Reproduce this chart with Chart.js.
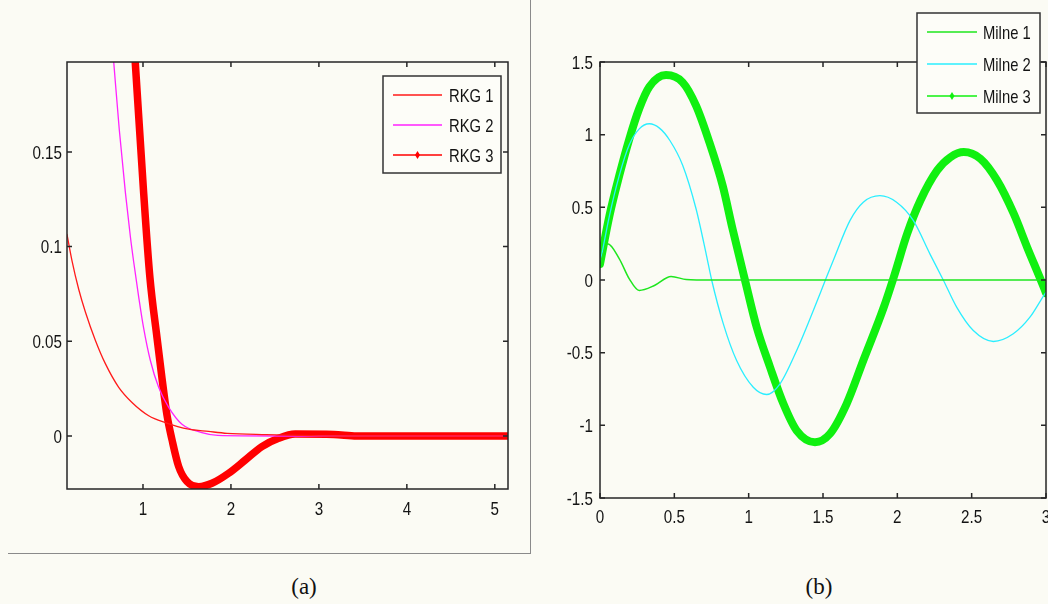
<!DOCTYPE html>
<html>
<head>
<meta charset="utf-8">
<script src="https://cdn.jsdelivr.net/npm/chart.js@4.4.0/dist/chart.umd.min.js"></script>
<style>
    body { margin: 0; width: 1048px; height: 604px; background: #fbfbf4; position: relative; overflow: hidden; }
    #chart-a { position: absolute; left: 0; top: 0; }
    #chart-b { position: absolute; left: 530px; top: 0; }
    .rule-h { position: absolute; left: 8px; top: 553px; width: 523px; height: 1px; background: #8a8a8a; }
    .rule-v { position: absolute; left: 530px; top: 0; width: 1px; height: 554px; background: #8a8a8a; }
    .caption { position: absolute; top: 574px; width: 100px; text-align: center; font: 23px "Liberation Serif", "Times New Roman", serif; color: #111; }
</style>
</head>
<body>
<div class="rule-h"></div>
<div class="rule-v"></div>
<canvas id="chart-a" width="530" height="530"></canvas>
<canvas id="chart-b" width="518" height="530"></canvas>
<div class="caption" style="left:254px">(a)</div>
<div class="caption" style="left:769px">(b)</div>
<script>
/* panel (a) */
const rkg1X = [0.136, 0.193, 0.269, 0.345, 0.458, 0.572, 0.724, 0.875, 1.065, 1.253, 1.519, 1.746, 1.955, 2.4, 2.8, 3.2, 5.15]
const rkg1Y = [0.1065, 0.0925, 0.0775, 0.0655, 0.0506, 0.0382, 0.0257, 0.0177, 0.0107, 0.0071, 0.0036, 0.0024, 0.0014, 0.0007, 0.0003, 0, 0]
const rkg2X = [0.62, 0.667, 0.73, 0.8, 0.856, 0.894, 0.951, 1.008, 1.083, 1.178, 1.292, 1.443, 1.67, 1.85, 2.5, 5.15]
const rkg2Y = [0.224, 0.1976, 0.162, 0.1285, 0.1055, 0.092, 0.0735, 0.0568, 0.04, 0.0257, 0.0151, 0.0062, 0.0018, 0.0003, 0, 0]
const rkg3X = [0.88, 0.913, 1.008, 1.078, 1.159, 1.216, 1.273, 1.33, 1.406, 1.5, 1.633, 1.784, 1.974, 2.163, 2.352, 2.542, 2.73, 3.17, 3.43, 5.15]
const rkg3Y = [0.22, 0.1966, 0.128, 0.084, 0.052, 0.0305, 0.011, -0.002, -0.0162, -0.0241, -0.0268, -0.025, -0.0197, -0.0127, -0.0056, -0.0012, 0.001, 0.0008, 0, 0]
const aXTicks = [1, 2, 3, 4, 5]
const aXLabels = ['1', '2', '3', '4', '5']
const aYTicks = [0, 0.05, 0.1, 0.15]
const aYLabels = ['0', '0.05', '0.1', '0.15']

/* panel (b) */
const milne1X = [0, 0.052, 0.13, 0.197, 0.264, 0.366, 0.478, 0.58, 0.65, 3.0]
const milne1Y = [0.11, 0.25, 0.146, 0.008, -0.072, -0.038, 0.024, 0.003, 0, 0]
const milne2X = [0, 0.063, 0.13, 0.197, 0.264, 0.332, 0.4, 0.47, 0.556, 0.646, 0.716, 0.751, 0.829, 0.919, 1.031, 1.121, 1.211, 1.323, 1.435, 1.524, 1.569, 1.682, 1.771, 1.883, 1.995, 2.107, 2.219, 2.309, 2.399, 2.511, 2.646, 2.78, 2.892, 2.985, 3.0]
const milne2Y = [0.11, 0.44, 0.72, 0.93, 1.04, 1.075, 1.045, 0.96, 0.79, 0.49, 0.17, 0, -0.3, -0.554, -0.738, -0.788, -0.714, -0.485, -0.21, 0.02, 0.134, 0.41, 0.535, 0.58, 0.535, 0.41, 0.18, 0, -0.187, -0.348, -0.423, -0.37, -0.256, -0.107, -0.085]
const milne3X = [0, 0.063, 0.13, 0.197, 0.264, 0.332, 0.444, 0.556, 0.646, 0.735, 0.825, 0.892, 0.975, 1.054, 1.144, 1.233, 1.323, 1.446, 1.547, 1.659, 1.771, 1.909, 1.976, 2.066, 2.155, 2.268, 2.357, 2.447, 2.559, 2.671, 2.783, 2.873, 2.985, 3.0]
const milne3Y = [0.11, 0.44, 0.72, 0.97, 1.18, 1.33, 1.41, 1.36, 1.2, 0.95, 0.65, 0.35, 0, -0.325, -0.6, -0.85, -1.036, -1.116, -1.058, -0.852, -0.554, -0.187, 0.02, 0.318, 0.547, 0.754, 0.845, 0.88, 0.834, 0.685, 0.456, 0.226, -0.05, -0.09]
const bXTicks = [0, 0.5, 1, 1.5, 2, 2.5, 3]
const bXLabels = ['0', '0.5', '1', '1.5', '2', '2.5', '3']
const bYTicks = [-1.5, -1, -0.5, 0, 0.5, 1, 1.5]
const bYLabels = ['-1.5', '-1', '-0.5', '0', '0.5', '1', '1.5']

var fontFamily = "'Liberation Sans', Arial, sans-serif"

function points(xs, ys) {
    return xs.map((x, i) => ({ x: x, y: ys[i] }))
}

function line(label, xs, ys, color, width, marker) {
    return {
        label: label,
        data: points(xs, ys),
        borderColor: color,
        backgroundColor: color,
        borderWidth: width,
        pointRadius: 0,
        cubicInterpolationMode: 'monotone',
        borderCapStyle: 'round',
        borderJoinStyle: 'round',
        clip: 0,
        marker: marker
    }
}

/* fixed axis: ticks only where the arrays say, labels drawn by the frame plugin */
function axis(min, max, values, size, isX) {
    return {
        type: 'linear',
        min: min,
        max: max,
        grid: { display: false },
        border: { display: false },
        afterBuildTicks: function (scale) { scale.ticks = values.map(v => ({ value: v })) },
        afterFit: function (scale) { if (isX) scale.height = size; else scale.width = size },
        ticks: { display: false, autoSkip: false }
    }
}

/* the old matlab font is a narrow arial, squeeze it */
function narrowText(ctx, text, x, y, align, squeeze) {
    ctx.save()
    ctx.translate(x, y)
    ctx.scale(squeeze, 1)
    ctx.textAlign = align
    ctx.textBaseline = 'alphabetic'
    ctx.fillText(text, 0, 0)
    ctx.restore()
}

/* box round the plot, ticks pointing inward on all four sides, tick labels */
const framePlugin = {
    id: 'frame',
    afterDatasetsDraw(chart, args, opts) {
        const ctx = chart.ctx, a = chart.chartArea, sx = chart.scales.x, sy = chart.scales.y
        ctx.save()
        ctx.strokeStyle = '#262626'
        ctx.lineWidth = 1.5
        ctx.strokeRect(a.left, a.top, a.right - a.left, a.bottom - a.top)
        ctx.beginPath()
        sx.ticks.forEach(t => {
            const p = sx.getPixelForValue(t.value)
            ctx.moveTo(p, a.bottom); ctx.lineTo(p, a.bottom - 5)
            ctx.moveTo(p, a.top); ctx.lineTo(p, a.top + 5)
        })
        sy.ticks.forEach(t => {
            const p = sy.getPixelForValue(t.value)
            ctx.moveTo(a.left, p); ctx.lineTo(a.left + 5, p)
            ctx.moveTo(a.right, p); ctx.lineTo(a.right - 5, p)
        })
        ctx.stroke()

        ctx.fillStyle = '#141414'
        ctx.font = '19px ' + fontFamily
        sx.ticks.forEach((t, i) => {
            narrowText(ctx, opts.xLabels[i], sx.getPixelForValue(t.value), a.bottom + opts.xDrop, 'center', 0.8)
        })
        sy.ticks.forEach((t, i) => {
            narrowText(ctx, opts.yLabels[i], a.left - opts.yGap, sy.getPixelForValue(t.value) + 6.8, 'right', 0.8)
        })
        ctx.restore()
    }
}

/* matlab style legend box */
const boxLegendPlugin = {
    id: 'boxLegend',
    afterDraw(chart, args, opts) {
        const ctx = chart.ctx, b = opts.box
        ctx.save()
        ctx.fillStyle = '#fdfdf8'
        ctx.fillRect(b[0], b[1], b[2], b[3])
        ctx.strokeStyle = '#333'
        ctx.lineWidth = 1.5
        ctx.strokeRect(b[0], b[1], b[2], b[3])
        chart.data.datasets.forEach((ds, i) => {
            const y = opts.rows[i]
            ctx.strokeStyle = ds.borderColor
            ctx.lineWidth = 1.5
            ctx.beginPath()
            ctx.moveTo(opts.lineX[0], y)
            ctx.lineTo(opts.lineX[1], y)
            ctx.stroke()
            if (ds.marker) {
                const mx = (opts.lineX[0] + opts.lineX[1]) / 2
                ctx.fillStyle = ds.borderColor
                ctx.beginPath()
                ctx.moveTo(mx, y - 4); ctx.lineTo(mx + 2.5, y); ctx.lineTo(mx, y + 4); ctx.lineTo(mx - 2.5, y)
                ctx.closePath()
                ctx.fill()
            }
            ctx.fillStyle = '#141414'
            ctx.font = '18.5px ' + fontFamily
            narrowText(ctx, ds.label, opts.textX, y + 6.6, 'left', 0.8)
        })
        ctx.restore()
    }
}

Chart.register(framePlugin, boxLegendPlugin)

new Chart(document.getElementById('chart-a'), {
    type: 'line',
    data: {
        datasets: [
            line('RKG 1', rkg1X, rkg1Y, '#ff1a1a', 1.3, false),
            line('RKG 2', rkg2X, rkg2Y, '#ff22ff', 1.3, false),
            line('RKG 3', rkg3X, rkg3Y, '#ff0000', 7.5, true)
        ]
    },
    options: {
        responsive: false,
        animation: false,
        layout: { autoPadding: false, padding: { left: 0, right: 22, top: 62, bottom: 11 } },
        scales: {
            x: axis(0.136, 5.15, aXTicks, 30, true),
            y: axis(-0.028, 0.1975, aYTicks, 67, false)
        },
        plugins: {
            legend: { display: false },
            tooltip: { enabled: false },
            frame: { xLabels: aXLabels, yLabels: aYLabels, xDrop: 26, yGap: 5 },
            boxLegend: { box: [383, 76, 118, 97], rows: [95, 125, 155], lineX: [393, 442], textX: 449 }
        }
    }
})

new Chart(document.getElementById('chart-b'), {
    type: 'line',
    data: {
        datasets: [
            line('Milne 1', milne1X, milne1Y, '#1ee61e', 1.5, false),
            line('Milne 2', milne2X, milne2Y, '#2aeeff', 1.3, false),
            line('Milne 3', milne3X, milne3Y, '#10f010', 8, true)
        ]
    },
    options: {
        responsive: false,
        animation: false,
        layout: { autoPadding: false, padding: { left: 0, right: 2, top: 62, bottom: 2 } },
        scales: {
            x: axis(0, 3, bXTicks, 30, true),
            y: axis(-1.5, 1.5, bYTicks, 70, false)
        },
        plugins: {
            legend: { display: false },
            tooltip: { enabled: false },
            frame: { xLabels: bXLabels, yLabels: bYLabels, xDrop: 25, yGap: 7 },
            boxLegend: { box: [387, 13, 123, 100], rows: [32, 64, 96], lineX: [397, 447], textX: 453 }
        }
    }
})
</script>
</body>
</html>
